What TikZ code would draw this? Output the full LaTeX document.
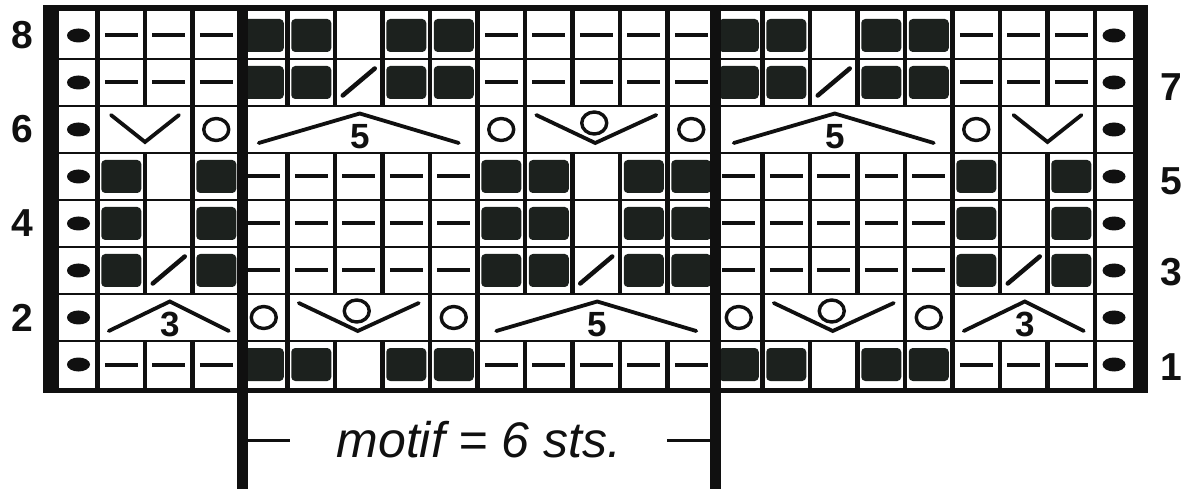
\documentclass[tikz,border=0pt]{standalone}
\usepackage{fontspec}
\setmainfont{Liberation Sans}
\definecolor{ink}{HTML}{101010}
\definecolor{sqc}{HTML}{1C211E}
\tikzset{
  sqst/.style={fill=sqc,rounded corners=4pt},
  dashst/.style={draw=ink,line width=4pt},
  symb/.style={draw=ink,line width=3.8pt,line cap=round},
  yost/.style={draw=ink,line width=3.4pt},
  vline/.style={draw=ink,line width=4.5pt},
  hline/.style={draw=ink,line width=2.8pt},
  motifline/.style={draw=ink,line width=11pt},
  lbl/.style={font=\bfseries\fontsize{39}{40}\selectfont,inner sep=0pt,text=ink},
  numst/.style={font=\bfseries\fontsize{35}{36}\selectfont,inner sep=0pt,text=ink},
  dotst/.style={fill=ink}
}
\newcommand{\SetCell}[2]{\pgfmathsetmacro{\CX}{97.5+47.5*#1+23.75}\pgfmathsetmacro{\CY}{12+47*(8-#2)+23.5}}
\newcommand{\SqCell}[2]{\SetCell{#1}{#2}\fill[sqst] ({\CX-20},{\CY-16.5}) rectangle ({\CX+20},{\CY+16.5});}
\newcommand{\DashCell}[2]{\SetCell{#1}{#2}\draw[dashst] ({\CX-16.5},{\CY}) -- ({\CX+16.5},{\CY});}
\newcommand{\SlashCell}[2]{\SetCell{#1}{#2}\draw[symb,line width=4.5pt] ({\CX-16},{\CY+13}) -- ({\CX+16},{\CY-14});}
\newcommand{\YoCell}[2]{\SetCell{#1}{#2}\draw[yost] ({\CX},{\CY}) ellipse [x radius=12.5pt,y radius=11pt];}
% #1 centre x, #2 row top
\newcommand{\VTwo}[2]{\draw[symb] ({#1-34},{#2+9}) -- ({#1},{#2+36}) -- ({#1+34},{#2+9});}
\newcommand{\VYo}[2]{\draw[symb] ({#1-60},{#2+9}) -- ({#1-1},{#2+37}) -- ({#1+60},{#2+9});
  \draw[yost] ({#1-2},{#2+17}) ellipse [x radius=12.5pt,y radius=11pt];}
% #1 centre x, #2 row top, #3 half width, #4 number
\newcommand{\DecN}[4]{\draw[symb] ({#1-#3},{#2+37}) -- ({#1+1},{#2+7.5}) -- ({#1+#3},{#2+37});
  \node[numst,anchor=base] at ({#1+1},{#2+43}) {#4};}
\begin{document}
\begin{tikzpicture}[x=1pt,y=-1pt]
\useasboundingbox (0,0) rectangle (1187,489);
\fill[white] (0,0) rectangle (1187,489);
% frame
\fill[ink] (43,5) rectangle (1148,393);
\fill[white] (59,11) rectangle (1133,388);
% edge dots
\foreach \r in {1,...,8} {
  \fill[dotst] (78.5,{12+47*(8-\r)+23.5}) ellipse [x radius=11.5pt,y radius=7pt];
  \fill[dotst] (1114,{12+47*(8-\r)+23.5}) ellipse [x radius=11.5pt,y radius=7pt];
}
% rows 8,7,1
\foreach \r in {8,7,1} {
  \foreach \c in {0,1,2,8,9,10,11,12,18,19,20} {\DashCell{\c}{\r}}
  \foreach \c in {3,4,6,7,13,14,16,17} {\SqCell{\c}{\r}}
}
\foreach \c in {5,15} {\SlashCell{\c}{7}}
% rows 5,4,3
\foreach \r in {5,4,3} {
  \foreach \c in {3,4,5,6,7,13,14,15,16,17} {\DashCell{\c}{\r}}
  \foreach \c in {0,2,8,9,11,12,18,20} {\SqCell{\c}{\r}}
}
\foreach \c in {1,10,19} {\SlashCell{\c}{3}}
% row 6 (top 106)
\VTwo{145}{106}
\YoCell{2}{6}
\DecN{358.75}{106}{100}{5}
\YoCell{8}{6}
\VYo{596.25}{106}
\YoCell{12}{6}
\DecN{833.75}{106}{100}{5}
\YoCell{18}{6}
\VTwo{1047.5}{106}
% row 2 (top 294)
\DecN{168.75}{294}{60}{3}
\YoCell{3}{2}
\VYo{358.75}{294}
\YoCell{7}{2}
\DecN{596.25}{294}{100}{5}
\YoCell{13}{2}
\VYo{833.75}{294}
\YoCell{17}{2}
\DecN{1023.75}{294}{60}{3}
% grid lines
\foreach \y in {59,106,153,200,247,294,341} {\draw[hline] (59,\y) -- (1133,\y);}
\draw[vline] (97.5,11) -- (97.5,388);
\draw[vline] (1095,11) -- (1095,388);
\foreach \i in {1,...,20} {
  \draw[vline] ({97.5+47.5*\i},11) -- ({97.5+47.5*\i},106);
  \draw[vline] ({97.5+47.5*\i},153) -- ({97.5+47.5*\i},294);
  \draw[vline] ({97.5+47.5*\i},341) -- ({97.5+47.5*\i},388);
}
\foreach \i in {2,3,8,9,12,13,18,19} {\draw[vline] ({97.5+47.5*\i},106) -- ({97.5+47.5*\i},153);}
\foreach \i in {3,4,7,8,13,14,17,18} {\draw[vline] ({97.5+47.5*\i},294) -- ({97.5+47.5*\i},341);}
% motif repeat lines
\coordinate (mlt) at (242,5);
\coordinate (mlb) at (242,489);
\coordinate (mrt) at (715,5);
\coordinate (mrb) at (715,489);
\draw[motifline] (mlt) -- (mlb);
\draw[motifline] (mrt) -- (mrb);
\coordinate (tl1) at (247,440);
\coordinate (tl2) at (290,440);
\coordinate (tr1) at (667,440);
\coordinate (tr2) at (710,440);
\draw[ink,line width=3pt] (tl1) -- (tl2);
\draw[ink,line width=3pt] (tr1) -- (tr2);
\node[font=\itshape\fontsize{50}{60}\selectfont,anchor=base,inner sep=0pt,text=ink] (motif) at (479,457) {motif = 6 sts.};
% row numbers
\node[lbl] (l8) at (22,35.5) {8};
\node[lbl] (l6) at (22,129.5) {6};
\node[lbl] (l4) at (22,223.5) {4};
\node[lbl] (l2) at (22,317.5) {2};
\node[lbl] (l7) at (1171,87) {7};
\node[lbl] (l5) at (1171,181) {5};
\node[lbl] (l3) at (1171,272) {3};
\node[lbl] (l1) at (1171,367) {1};
\end{tikzpicture}
\end{document}
